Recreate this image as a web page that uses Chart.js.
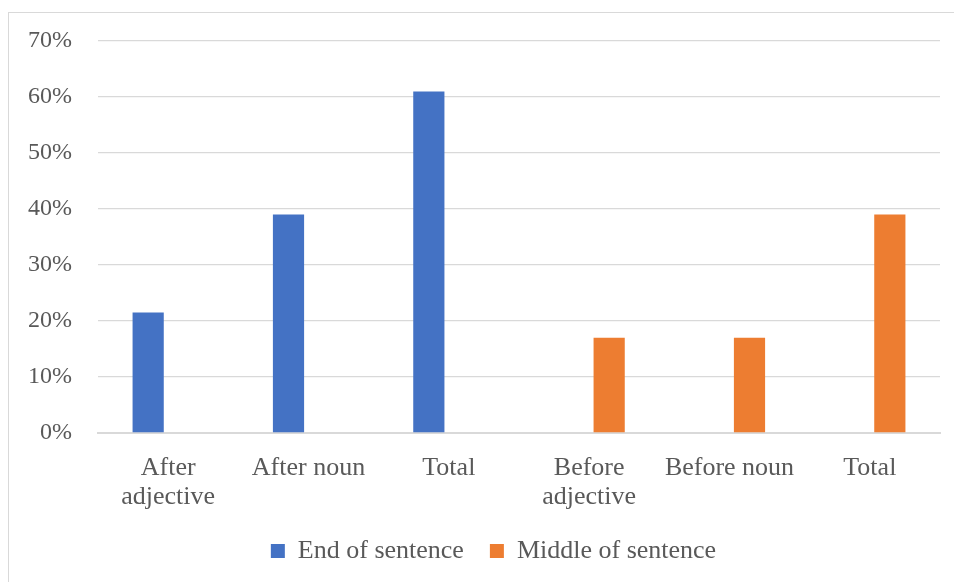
<!DOCTYPE html>
<html>
<head>
<meta charset="utf-8">
<script src="https://cdn.jsdelivr.net/npm/chart.js@4.4.1/dist/chart.umd.min.js"></script>
<style>
  html, body { margin: 0; padding: 0; background: #fff; overflow: hidden; width: 954px; height: 582px; }
  #wrap { position: absolute; left: 8px; top: 12px; width: 969px; height: 570px;
          border-left: 1px solid #d9d9d9; border-top: 1px solid #d9d9d9; }
  canvas { display: block; }
</style>
</head>
<body>
<div id="wrap"><canvas id="c" width="969" height="569"></canvas></div>
<script>
const categories = [["After", "adjective"], "After noun", "Total", ["Before", "adjective"], "Before noun", "Total"];
const endOfSentence = [21.5, 39, 61, null, null, null];
const middleOfSentence = [null, null, null, 17, 17, 39];
const yTicks = [0, 10, 20, 30, 40, 50, 60, 70];

const FONT = "'Liberation Serif', 'Times New Roman', serif";
const TXT = '#595959';
const GRID = '#d9d9d9';

new Chart(document.getElementById('c'), {
  type: 'bar',
  data: {
    labels: categories,
    datasets: [
      { label: 'End of sentence', data: endOfSentence, backgroundColor: '#4472C4',
        categoryPercentage: 0.57, barPercentage: 0.78 },
      { label: 'Middle of sentence', data: middleOfSentence, backgroundColor: '#ED7D31',
        categoryPercentage: 0.57, barPercentage: 0.78 }
    ]
  },
  options: {
    responsive: false,
    animation: false,
    layout: { padding: { top: 28, right: 0, left: 0, bottom: 8 } },
    plugins: {
      tooltip: { enabled: false },
      legend: {
        position: 'bottom',
        labels: {
          font: { family: FONT, size: 26 },
          color: TXT,
          boxWidth: 14,
          boxHeight: 14,
          padding: 26
        }
      }
    },
    scales: {
      x: {
        grid: { display: false, drawTicks: false },
        border: { display: true, color: GRID, width: 2 },
        ticks: {
          font: { family: FONT, size: 26, lineHeight: 1.1 },
          color: TXT,
          padding: 21,
          maxRotation: 0,
          autoSkip: false
        },
        afterFit: (s) => { s.height = 79; }
      },
      y: {
        min: 0, max: 70,
        afterBuildTicks: (s) => { s.ticks = yTicks.map(v => ({ value: v })); },
        grid: { color: GRID, lineWidth: 1.3, drawTicks: false },
        border: { display: false },
        ticks: {
          font: { family: FONT, size: 24 },
          color: TXT,
          padding: 26,
          callback: (v) => v + '%'
        },
        afterFit: (s) => { s.width = 89; s.paddingTop = 14; s.paddingBottom = 14; }
      },
      yRight: {
        position: 'right',
        min: 0, max: 1,
        grid: { display: false, drawTicks: false },
        border: { display: false },
        ticks: { display: false },
        afterFit: (s) => { s.width = 38; s.paddingTop = 0; s.paddingBottom = 0; }
      }
    }
  }
});
</script>
</body>
</html>
